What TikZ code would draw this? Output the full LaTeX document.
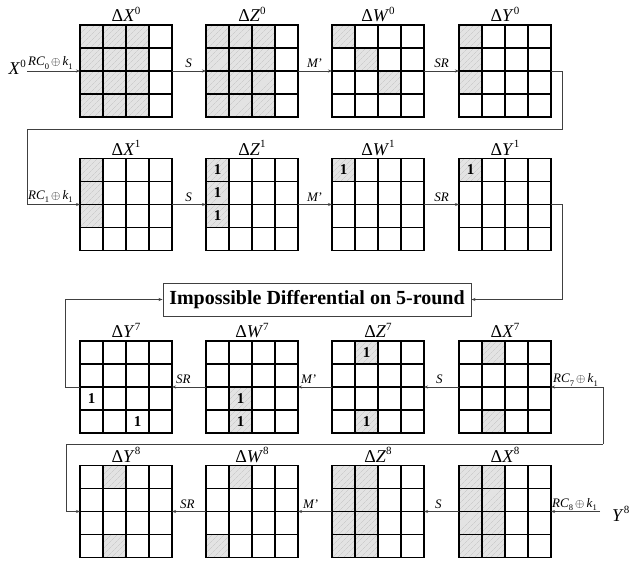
\documentclass[tikz,border=0pt]{standalone}
\usepackage{fontspec}
\setmainfont{Liberation Serif}
\usetikzlibrary{calc,arrows.meta,patterns.meta}

\newcommand\sups[1]{\raisebox{0.42em}{\fontsize{11}{11}\selectfont #1}}
\newcommand\subs[1]{\raisebox{-0.25em}{\fontsize{8.5}{8.5}\selectfont\upshape #1}}
\newcommand\dl[2]{Δ\textit{#1}\sups{#2}}
\newcommand\rck[1]{RC\subs{#1}\,$\oplus$\,k\subs{1}}

\newcommand\shadecells[2]{\foreach \gi/\gj in {#2}{\path[hatch] ($(#1.north west)+(23*\gj,-23*\gi)$) rectangle ++(23,-23);}}
\newcommand\onecells[2]{\foreach \gi/\gj in {#2}{\node[one] at ($(#1.north west)+(23*\gj+11.5,-23*\gi-11.5)$) {1};}}
\newcommand\gridlines[1]{\foreach \gk in {1,2,3}{\draw[gl] ($(#1.north west)+(23*\gk,0)$) -- ++(0,-92); \draw[gl] ($(#1.north west)+(0,-23*\gk)$) -- ++(92,0);}\draw[gl] (#1.north west) rectangle (#1.south east);}

\begin{document}
\begin{tikzpicture}[x=1pt,y=1pt,
  gridbox/.style={minimum width=92pt,minimum height=92pt,inner sep=0pt,outer sep=0pt},
  hatch/.style={fill=black!11,postaction={pattern={Lines[angle=45,distance=4pt,line width=0.4pt]},pattern color=black!24}},
  gl/.style={line width=1.3pt,line cap=rect},
  conn/.style={draw=black!75,line width=0.7pt},
  arr/.style={conn,-{Stealth[length=4pt,width=3pt]}},
  lab/.style={font=\fontsize{13}{13}\selectfont\itshape,inner sep=0pt},
  ttl/.style={font=\fontsize{18}{18}\selectfont,inner sep=0pt,anchor=base},
  one/.style={font=\fontsize{15}{15}\selectfont\bfseries,inner sep=0pt},
  impbox/.style={draw=black!75,line width=0.9pt,minimum width=308pt,minimum height=33pt,inner sep=0pt,font=\fontsize{20}{20}\selectfont\bfseries}]
\useasboundingbox (0,0) rectangle (639,562);

% grid nodes
\node[gridbox] (X0) at (126,491) {};
\node[gridbox] (Z0) at (252,491) {};
\node[gridbox] (W0) at (378,491) {};
\node[gridbox] (Y0) at (505,491) {};
\node[gridbox] (X1) at (126,357.5) {};
\node[gridbox] (Z1) at (252,357.5) {};
\node[gridbox] (W1) at (378,357.5) {};
\node[gridbox] (Y1) at (505,357.5) {};
\node[gridbox] (Y7) at (126,175) {};
\node[gridbox] (W7) at (252,175) {};
\node[gridbox] (Z7) at (378,175) {};
\node[gridbox] (X7) at (505,175) {};
\node[gridbox] (Y8) at (126,50.5) {};
\node[gridbox] (W8) at (252,50.5) {};
\node[gridbox] (Z8) at (378,50.5) {};
\node[gridbox] (X8) at (505,50.5) {};

% shading
\shadecells{X0}{0/0,0/1,0/2,1/0,1/1,1/2,2/0,2/1,2/2,3/0,3/1,3/2}
\shadecells{Z0}{0/0,0/1,0/2,1/0,1/1,1/2,2/0,2/1,2/2,3/0,3/1,3/2}
\shadecells{W0}{0/0,1/1,2/2}
\shadecells{Y0}{0/0,1/0,2/0}
\shadecells{X1}{0/0,1/0,2/0}
\shadecells{Z1}{0/0,1/0,2/0}
\shadecells{W1}{0/0}
\shadecells{Y1}{0/0}
\shadecells{W7}{2/1,3/1}
\shadecells{Z7}{0/1,3/1}
\shadecells{X7}{0/1,3/1}
\shadecells{Y8}{0/1,3/1}
\shadecells{W8}{0/1,3/0}
\shadecells{Z8}{0/0,0/1,1/0,1/1,2/0,2/1,3/0,3/1}
\shadecells{X8}{0/0,0/1,1/0,1/1,2/0,2/1,3/0,3/1}

% grid lines
\foreach \g in {X0,Z0,W0,Y0,X1,Z1,W1,Y1,Y7,W7,Z7,X7,Y8,W8,Z8,X8}{\gridlines{\g}}

% ones
\onecells{Z1}{0/0,1/0,2/0}
\onecells{W1}{0/0}
\onecells{Y1}{0/0}
\onecells{Y7}{2/0,3/2}
\onecells{W7}{2/1,3/1}
\onecells{Z7}{0/1,3/1}

% titles
\node[ttl] at ($(X0.north)+(0,3)$) {\dl{X}{0}};
\node[ttl] at ($(Z0.north)+(0,3)$) {\dl{Z}{0}};
\node[ttl] at ($(W0.north)+(0,3)$) {\dl{W}{0}};
\node[ttl] at ($(Y0.north)+(0,3)$) {\dl{Y}{0}};
\node[ttl] at ($(X1.north)+(0,3)$) {\dl{X}{1}};
\node[ttl] at ($(Z1.north)+(0,3)$) {\dl{Z}{1}};
\node[ttl] at ($(W1.north)+(0,3)$) {\dl{W}{1}};
\node[ttl] at ($(Y1.north)+(0,3)$) {\dl{Y}{1}};
\node[ttl] at ($(Y7.north)+(0,3)$) {\dl{Y}{7}};
\node[ttl] at ($(W7.north)+(0,3)$) {\dl{W}{7}};
\node[ttl] at ($(Z7.north)+(0,3)$) {\dl{Z}{7}};
\node[ttl] at ($(X7.north)+(0,3)$) {\dl{X}{7}};
\node[ttl] at ($(Y8.north)+(0,3)$) {\dl{Y}{8}};
\node[ttl] at ($(W8.north)+(0,3)$) {\dl{W}{8}};
\node[ttl] at ($(Z8.north)+(0,3)$) {\dl{Z}{8}};
\node[ttl] at ($(X8.north)+(0,3)$) {\dl{X}{8}};

% impossible box
\node[impbox] (imp) at (317,262.5) {Impossible Differential on 5-round};

% coordinates
\coordinate (in0) at (27,491);
\coordinate (r0) at (562,433);
\coordinate (l0) at (27,433);
\coordinate (c7) at (603,175);
\coordinate (c7b) at (603,118);
\coordinate (c8) at (66,118);
\coordinate (in8) at (600,50.5);

% row 0
\draw[arr] (in0) -- (X0.west);
\draw[arr] (X0.east) -- (Z0.west);
\draw[arr] (Z0.east) -- (W0.west);
\draw[arr] (W0.east) -- (Y0.west);
\draw[arr] (Y0.east) -| (r0) -- (l0) |- (X1.west);
\node[ttl,anchor=base east] (x0lab) at ($(in0)+(-1,-4)$) {\textit{X}\sups{0}};
\node[lab,anchor=base west] at ($(in0)+(1,5)$) {\rck{0}};
\node[lab,anchor=base east] at ($(Z0.west)+(-14,3)$) {S};
\node[lab,anchor=base east] at ($(W0.west)+(-9,3)$) {M\kern0.5pt\upshape'};
\node[lab,anchor=base east] at ($(Y0.west)+(-10,3)$) {SR};

% row 1
\draw[arr] (X1.east) -- (Z1.west);
\draw[arr] (Z1.east) -- (W1.west);
\draw[arr] (W1.east) -- (Y1.west);
\draw[arr] (Y1.east) -| ($(imp.east)+(91,0)$) -- (imp.east);
\node[lab,anchor=base west] at ($(l0 |- X1.west)+(1,5)$) {\rck{1}};
\node[lab,anchor=base east] at ($(Z1.west)+(-14,3)$) {S};
\node[lab,anchor=base east] at ($(W1.west)+(-9,3)$) {M\kern0.5pt\upshape'};
\node[lab,anchor=base east] at ($(Y1.west)+(-10,3)$) {SR};

% row 2
\draw[arr] (Y7.west) -| ($(imp.west)+(-97,0)$) -- (imp.west);
\draw[arr] (c7b) -- (c7) -- (X7.east);
\draw[arr] (X7.west) -- (Z7.east);
\draw[arr] (Z7.west) -- (W7.east);
\draw[arr] (W7.west) -- (Y7.east);
\node[lab,anchor=base west] at ($(X7.east)+(2,4)$) {\rck{7}};
\node[lab,anchor=base west] at ($(Z7.east)+(12,3)$) {S};
\node[lab,anchor=base west] at ($(W7.east)+(3,3)$) {M\kern0.5pt\upshape'};
\node[lab,anchor=base west] at ($(Y7.east)+(4,3)$) {SR};

% row 3
\draw[arr] (c7b) -- (c8) |- (Y8.west);
\draw[arr] (in8) -- (X8.east);
\draw[arr] (X8.west) -- (Z8.east);
\draw[arr] (Z8.west) -- (W8.east);
\draw[arr] (W8.west) -- (Y8.east);
\node[lab,anchor=base west] at ($(X8.east)+(1,4)$) {\rck{8}};
\node[ttl,anchor=base west] (y8lab) at ($(in8)+(12,-10)$) {\textit{Y}\sups{8}};
\node[lab,anchor=base west] at ($(Z8.east)+(11,3)$) {S};
\node[lab,anchor=base west] at ($(W8.east)+(5,3)$) {M\kern0.5pt\upshape'};
\node[lab,anchor=base west] at ($(Y8.east)+(8,3)$) {SR};
\end{tikzpicture}
\end{document}
